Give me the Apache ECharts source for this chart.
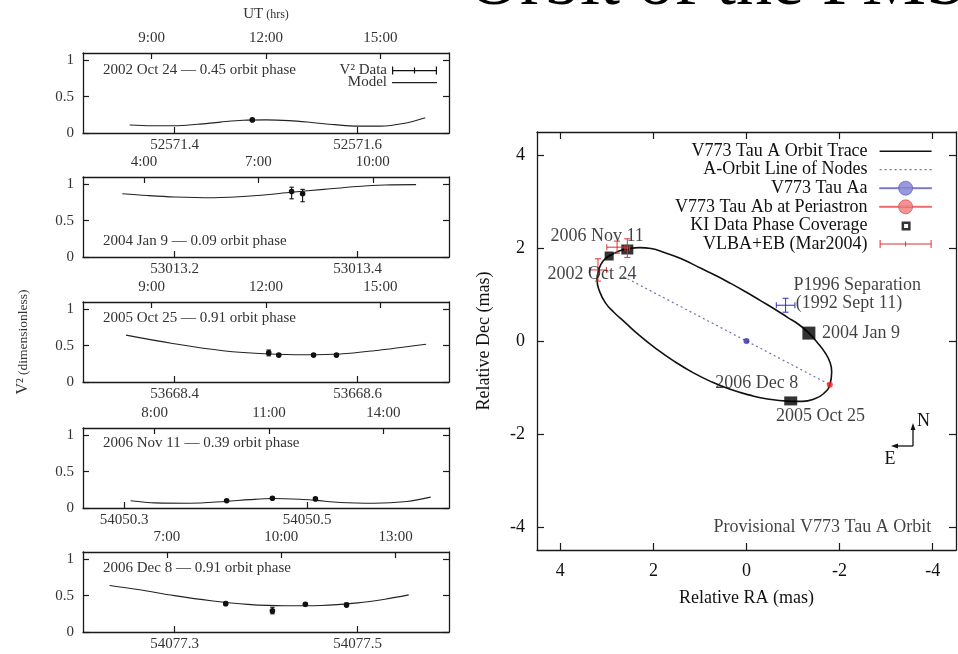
<!DOCTYPE html>
<html><head><meta charset="utf-8">
<script src="https://cdn.jsdelivr.net/npm/echarts@6/dist/echarts.min.js"></script>
<style>html,body{margin:0;padding:0;background:#fff;}#c{width:958px;height:654px;}</style>
</head><body><div id="c"></div>
<script>
// ---------------- DATA ----------------
const panelTexts = ['2002 Oct 24 \u2014 0.45 orbit phase', '2004 Jan 9 \u2014 0.09 orbit phase', '2005 Oct 25 \u2014 0.91 orbit phase', '2006 Nov 11 \u2014 0.39 orbit phase', '2006 Dec 8 \u2014 0.91 orbit phase'];
const mjdRanges = [[52571.3, 52571.7], [53013.1, 53013.5], [53668.3, 53668.7], [54050.255, 54050.655], [54077.2, 54077.6]];
const mjdTicks = [[52571.4, 52571.6], [53013.2, 53013.4], [53668.4, 53668.6], [54050.3, 54050.5], [54077.3, 54077.5]];
const utTicks = [[9, 12, 15], [4, 7, 10], [9, 12, 15], [8, 11, 14], [7, 10, 13]];
const v2Ticks = [0, 0.5, 1];

// model curves [MJD, V2]
const model1 = [[52571.351,0.11],[52571.375,0.10],[52571.40,0.10],[52571.425,0.12],[52571.45,0.15],[52571.475,0.175],[52571.50,0.18],[52571.525,0.17],[52571.55,0.145],[52571.575,0.115],[52571.60,0.095],[52571.625,0.095],[52571.65,0.13],[52571.674,0.21]];
const model2 = [[53013.143,0.87],[53013.17,0.845],[53013.2,0.825],[53013.243,0.815],[53013.29,0.845],[53013.328,0.89],[53013.363,0.93],[53013.40,0.97],[53013.43,0.99],[53013.464,0.995]];
const model3 = [[53668.347,0.645],[53668.398,0.53],[53668.453,0.43],[53668.503,0.385],[53668.544,0.375],[53668.581,0.385],[53668.618,0.43],[53668.675,0.52]];
const model4 = [[54050.307,0.10],[54050.334,0.07],[54050.371,0.065],[54050.411,0.09],[54050.437,0.115],[54050.463,0.13],[54050.492,0.12],[54050.509,0.105],[54050.536,0.075],[54050.573,0.065],[54050.609,0.09],[54050.635,0.15]];
const model5 = [[54077.229,0.64],[54077.26,0.585],[54077.30,0.50],[54077.34,0.43],[54077.38,0.38],[54077.42,0.36],[54077.46,0.365],[54077.50,0.40],[54077.53,0.45],[54077.556,0.51]];

// V2 data [MJD, V2, low, high]
const data1 = [[52571.485,0.18,0.16,0.20]];
const data2 = [[53013.328,0.90,0.80,0.96],[53013.340,0.87,0.76,0.93]];
const data3 = [[53668.503,0.40,0.36,0.44],[53668.514,0.37,0.35,0.39],[53668.552,0.37,0.355,0.385],[53668.577,0.37,0.35,0.39]];
const data4 = [[54050.412,0.10,0.09,0.115],[54050.462,0.135,0.12,0.15],[54050.509,0.125,0.11,0.14]];
const data5 = [[54077.356,0.39,0.37,0.41],[54077.407,0.29,0.25,0.34],[54077.443,0.38,0.36,0.40],[54077.488,0.37,0.35,0.40]];

// orbit panel [RA, Dec] (mas)
const orbitTrace = [[-0.95,-1.30],[-0.45,-1.25],[-0.05,-1.16],[0.35,-1.04],[0.75,-0.88],[1.15,-0.68],[1.55,-0.44],[1.95,-0.16],[2.30,0.12],[2.61,0.40],[2.85,0.62],[3.03,0.82],[3.16,1.08],[3.21,1.32],[3.17,1.55],[3.08,1.72],[2.95,1.83],[2.75,1.93],[2.56,1.98],[2.30,2.01],[2.05,1.99],[1.75,1.90],[1.40,1.77],[0.99,1.57],[0.66,1.41],[0.34,1.24],[0.02,1.06],[-0.30,0.87],[-0.60,0.69],[-0.88,0.51],[-1.13,0.35],[-1.34,0.17],[-1.52,-0.03],[-1.68,-0.24],[-1.79,-0.45],[-1.83,-0.66],[-1.79,-0.94],[-1.66,-1.13],[-1.45,-1.25],[-1.20,-1.30],[-0.95,-1.30]];
const lineOfNodes = [[2.65,1.39],[-1.79,-0.94]];
const aaPos = [[0,0]];
const abPeriastron = [[-1.79,-0.94]];
const kiCoverage = [[2.95,1.83],[2.56,1.97],[-1.34,0.17],[-0.95,-1.29]];
const vlba = [[3.19,1.53,0.18,0.24],[2.78,2.02,0.22,0.13],[2.56,2.0,0.05,0.2]]; // [RA, Dec, errRA, errDec]
const p1996 = [[-0.84,0.77,0.2,0.15]];
const raTicks = [-4,-2,0,2,4];
const decTicks = [-4,-2,0,2,4];
const annotations = [
  ['2006 Nov 11', 3.21, 2.26],
  ['2002 Oct 24', 3.32, 1.44],
  ['P1996 Separation', -1.01, 1.19],
  ['(1992 Sept 11)', -1.06, 0.81],
  ['2004 Jan 9', -1.62, 0.17],
  ['2006 Dec 8', -0.22, -0.90],
  ['2005 Oct 25', -1.59, -1.63],
  ['Provisional V773 Tau A Orbit', -3.97, -4.0]
];

// ---------------- STYLE / LAYOUT ----------------
const FONT = 'Liberation Serif';
const kiSizes = [[9,9],[12,10],[13,13],[13,9]];
const annAlign = ['center','center','left','left','left','center','center','right'];
const leftTops = [53, 177, 302, 428, 552];
const models = [model1, model2, model3, model4, model5];
const datas = [data1, data2, data3, data4, data5];
const lineCol = '#1a1a1a';
const axLine = {show:true, onZero:false, lineStyle:{color:lineCol, width:1.3}};
const tickStyle = {color:lineCol, width:1.2};

function errRender(params, api){
  const x=api.value(0), y=api.value(1), lo=api.value(2), hi=api.value(3);
  const p=api.coord([x,y]), pl=api.coord([x,lo]), ph=api.coord([x,hi]);
  const c=2.2, st={stroke:'#111', lineWidth:1.1};
  return {type:'group', children:[
    {type:'line', shape:{x1:pl[0],y1:pl[1],x2:ph[0],y2:ph[1]}, style:st},
    {type:'line', shape:{x1:pl[0]-c,y1:pl[1],x2:pl[0]+c,y2:pl[1]}, style:st},
    {type:'line', shape:{x1:ph[0]-c,y1:ph[1],x2:ph[0]+c,y2:ph[1]}, style:st},
    {type:'circle', shape:{cx:p[0],cy:p[1],r:2.8}, style:{fill:'#111'}}
  ]};
}
function xyErr(color){
  return function(params, api){
    const x=api.value(0), y=api.value(1), ex=api.value(2), ey=api.value(3);
    const l=api.coord([x-ex,y]), r=api.coord([x+ex,y]), t=api.coord([x,y+ey]), b=api.coord([x,y-ey]);
    const c=3, st={stroke:color, lineWidth:1};
    return {type:'group', children:[
      {type:'line', shape:{x1:l[0],y1:l[1],x2:r[0],y2:r[1]}, style:st},
      {type:'line', shape:{x1:l[0],y1:l[1]-c,x2:l[0],y2:l[1]+c}, style:st},
      {type:'line', shape:{x1:r[0],y1:r[1]-c,x2:r[0],y2:r[1]+c}, style:st},
      {type:'line', shape:{x1:t[0],y1:t[1],x2:b[0],y2:b[1]}, style:st},
      {type:'line', shape:{x1:t[0]-c,y1:t[1],x2:t[0]+c,y2:t[1]}, style:st},
      {type:'line', shape:{x1:b[0]-c,y1:b[1],x2:b[0]+c,y2:b[1]}, style:st}
    ]};
  };
}

const grids=[], xAxes=[], yAxes=[], series=[];
const leftLabel = {fontFamily:FONT, fontSize:15, color:'#333'};
for (let i=0;i<5;i++){
  grids.push({left:83, top:leftTops[i], width:366, height:80});
  const mn=mjdRanges[i][0], mx=mjdRanges[i][1], day=Math.floor(mn);
  xAxes.push({type:'value', gridIndex:i, position:'bottom', min:mn, max:mx,
    axisLine:axLine, splitLine:{show:false},
    axisTick:{inside:true, length:6, customValues:mjdTicks[i], lineStyle:tickStyle},
    axisLabel:Object.assign({customValues:mjdTicks[i], margin:5, formatter:v=>v.toFixed(1)}, leftLabel)});
  const top = {type:'value', gridIndex:i, position:'top', min:(mn-day)*24, max:(mx-day)*24,
    axisLine:axLine, splitLine:{show:false},
    axisTick:{inside:true, length:6, customValues:utTicks[i], lineStyle:tickStyle},
    axisLabel:Object.assign({customValues:utTicks[i], margin:7, formatter:v=>Math.round(v)+':00'}, leftLabel)};
  if (i===0){
    Object.assign(top, {name:'{a|UT} {b|(hrs)}', nameLocation:'middle', nameGap:31,
      nameTextStyle:{fontFamily:FONT, color:'#333', rich:{a:{fontFamily:FONT,fontSize:15,color:'#333'}, b:{fontFamily:FONT,fontSize:12,color:'#333'}}}});
  }
  xAxes.push(top);
  const yl = {type:'value', gridIndex:i, position:'left', min:0, max:1.1,
    axisLine:axLine, splitLine:{show:false},
    axisTick:{inside:true, length:6, customValues:v2Ticks, lineStyle:tickStyle},
    axisLabel:Object.assign({customValues:v2Ticks, margin:9, formatter:v=>String(v)}, leftLabel)};
  if (i===2){
    Object.assign(yl, {name:'{a|V\u00b2} {b|(dimensionless)}', nameLocation:'middle', nameRotate:90, nameGap:52,
      nameTextStyle:{rich:{a:{fontFamily:FONT,fontSize:16,color:'#333'}, b:{fontFamily:FONT,fontSize:13.5,color:'#333'}}}});
  }
  yAxes.push(yl);
  yAxes.push({type:'value', gridIndex:i, position:'right', min:0, max:1.1,
    axisLine:axLine, splitLine:{show:false}, axisLabel:{show:false},
    axisTick:{inside:true, length:6, customValues:v2Ticks, lineStyle:tickStyle}});
  series.push({type:'line', name:'Model', xAxisIndex:2*i, yAxisIndex:2*i, data:models[i], smooth:0.35,
    showSymbol:false, symbol:'none', lineStyle:{color:'#222', width:1.1}, itemStyle:{color:'#222'}, z:3});
  series.push({type:'custom', name:'V\u00b2 Data', xAxisIndex:2*i, yAxisIndex:2*i, data:datas[i],
    renderItem:errRender, encode:{x:0, y:1}, itemStyle:{color:'#111'}, z:4});
}

// right panel
const R = {fontFamily:FONT, fontSize:18, color:'#111'};
grids.push({left:537, top:132, width:419, height:418});
xAxes.push({type:'value', gridIndex:5, position:'bottom', min:-4.5, max:4.5, inverse:true,
  axisLine:axLine, splitLine:{show:false},
  axisTick:{inside:true, length:7, customValues:raTicks, lineStyle:tickStyle},
  axisLabel:Object.assign({customValues:raTicks, margin:12, formatter:v=>String(v)}, R),
  name:'Relative RA (mas)', nameLocation:'middle', nameGap:39, nameTextStyle:R});
xAxes.push({type:'value', gridIndex:5, position:'top', min:-4.5, max:4.5, inverse:true,
  axisLine:axLine, splitLine:{show:false}, axisLabel:{show:false},
  axisTick:{inside:true, length:7, customValues:raTicks, lineStyle:tickStyle}});
yAxes.push({type:'value', gridIndex:5, position:'left', min:-4.5, max:4.5,
  axisLine:axLine, splitLine:{show:false},
  axisTick:{inside:true, length:7, customValues:decTicks, lineStyle:tickStyle},
  axisLabel:Object.assign({customValues:decTicks, margin:12, formatter:v=>String(v)}, R),
  name:'Relative Dec (mas)', nameLocation:'middle', nameRotate:90, nameGap:44, nameTextStyle:R});
yAxes.push({type:'value', gridIndex:5, position:'right', min:-4.5, max:4.5,
  axisLine:axLine, splitLine:{show:false}, axisLabel:{show:false},
  axisTick:{inside:true, length:7, customValues:decTicks, lineStyle:tickStyle}});

series.push({type:'line', name:'V773 Tau A Orbit Trace', xAxisIndex:10, yAxisIndex:10, data:orbitTrace,
  smooth:0.5, showSymbol:false, symbol:'none', lineStyle:{color:'#111', width:1.6}, itemStyle:{color:'#111'}, z:3});
series.push({type:'line', name:'A-Orbit Line of Nodes', xAxisIndex:10, yAxisIndex:10, data:lineOfNodes,
  showSymbol:false, symbol:'none', lineStyle:{color:'#7070a8', width:1.2, type:[2,3]}, itemStyle:{color:'#7070a8'}, z:2});
series.push({type:'scatter', name:'V773 Tau Aa', xAxisIndex:10, yAxisIndex:10, data:aaPos,
  symbol:'circle', symbolSize:6, itemStyle:{color:'#2a2aa0'}, z:5});
series.push({type:'scatter', name:'V773 Tau Ab at Periastron', xAxisIndex:10, yAxisIndex:10, data:abPeriastron,
  symbol:'circle', symbolSize:6, itemStyle:{color:'#ee2020'}, z:5});
series.push({type:'scatter', name:'KI Data Phase Coverage', xAxisIndex:10, yAxisIndex:10,
  data:kiCoverage.map((d,k)=>({value:d, symbolSize:kiSizes[k]})),
  symbol:'rect', itemStyle:{color:'#000'}, z:6});
series.push({type:'custom', name:'VLBA+EB (Mar2004)', xAxisIndex:10, yAxisIndex:10, data:vlba,
  renderItem:xyErr('#e03030'), encode:{x:0,y:1}, itemStyle:{color:'#e03030'}, z:7});
series.push({type:'custom', name:'P1996', xAxisIndex:10, yAxisIndex:10, data:p1996,
  renderItem:xyErr('#3030c0'), encode:{x:0,y:1}, itemStyle:{color:'#3030c0'}, z:7});
series.push({type:'scatter', name:'annotations', xAxisIndex:10, yAxisIndex:10, symbolSize:0, silent:true, z:8,
  data:annotations.map((a,k)=>({value:[a[1],a[2]], label:{show:true, position:'inside', formatter:a[0], align:annAlign[k], verticalAlign:'middle', fontFamily:FONT, fontSize:18, color:'#111'}}))});

// legend icons
const B = 'M0,0 M52,14 ';
const dots = (()=>{let s=B; for(let x=0;x<52;x+=5){s+='M'+x+',6.5h2v1.2h-2z ';} return s;})();
const option = {
  animation:false,
  backgroundColor:'#fff',
  grid:grids, xAxis:xAxes, yAxis:yAxes, series:series,
  legend:[
    {orient:'vertical', align:'right', right:516, top:58, itemWidth:45, itemHeight:10, itemGap:-3,
     textStyle:{fontFamily:FONT, fontSize:15, color:'#333', lineHeight:12},
     data:[
       {name:'V\u00b2 Data', icon:'path://M0,0 M45,10 M0,1h1.2v8h-1.2z M0,4.5h45v1.2h-45z M21.9,2h1.2v6h-1.2z M43.8,1h1.2v8h-1.2z', itemStyle:{color:'#111'}},
       {name:'Model', icon:'path://M0,0 M45,10 M0,4.5h45v1.2h-45z', itemStyle:{color:'#222'}}
     ]},
    {orient:'vertical', align:'right', right:21, top:137, itemWidth:52, itemHeight:14, itemGap:0.6,
     textStyle:{fontFamily:FONT, fontSize:18, color:'#111', lineHeight:18, padding:[0,7,0,0]},
     data:[
       {name:'V773 Tau A Orbit Trace', icon:'path://'+B+'M0,6.4h52v1.5h-52z', itemStyle:{color:'#111'}},
       {name:'A-Orbit Line of Nodes', icon:'path://'+dots, itemStyle:{color:'#7070a8'}},
       {name:'V773 Tau Aa', icon:'path://'+B+'M0,6.5h52v1h-52z M19,7a7,7 0 1,0 14,0a7,7 0 1,0 -14,0z', itemStyle:{color:'#8080d8', borderColor:'#5050b8', borderWidth:0.8}},
       {name:'V773 Tau Ab at Periastron', icon:'path://'+B+'M0,6.5h52v1h-52z M19,7a7,7 0 1,0 14,0a7,7 0 1,0 -14,0z', itemStyle:{color:'#f07878', borderColor:'#e03838', borderWidth:0.8}},
       {name:'KI Data Phase Coverage', icon:'path://'+B+'M22,3h9v9h-9z M24.5,5.5v4h4v-4z', itemStyle:{color:'#000'}},
       {name:'VLBA+EB (Mar2004)', icon:'path://'+B+'M0,3h1v8h-1z M0,6.5h52v1h-52z M25.5,4.5h1v5h-1z M51,3h1v8h-1z', itemStyle:{color:'#e03030'}}
     ]}
  ],
  graphic:[
    {type:'text', x:468, y:-15, style:{text:'Orbit of the PMS', font:'72px "Liberation Serif"', fill:'#000', verticalAlign:'middle'}},
    ...panelTexts.map((t,i)=>({type:'text', x:103, y:[70,241,318,443,568][i], style:{text:t, font:'15px "Liberation Serif"', fill:'#333', verticalAlign:'middle'}})),
    {type:'line', shape:{x1:913,y1:446,x2:913,y2:427}, style:{stroke:'#111', lineWidth:1.3}},
    {type:'polygon', shape:{points:[[913,423],[910.6,430],[915.4,430]]}, style:{fill:'#111'}},
    {type:'line', shape:{x1:913,y1:446,x2:895,y2:446}, style:{stroke:'#111', lineWidth:1.3}},
    {type:'polygon', shape:{points:[[891,446],[898,443.6],[898,448.4]]}, style:{fill:'#111'}},
    {type:'text', x:917, y:421, style:{text:'N', font:'18px "Liberation Serif"', fill:'#111', verticalAlign:'middle'}},
    {type:'text', x:890, y:459, style:{text:'E', font:'18px "Liberation Serif"', fill:'#111', align:'center', verticalAlign:'middle'}}
  ]
};
const chart = echarts.init(document.getElementById('c'), null, {renderer:'canvas'});
chart.setOption(option);
</script>
</body></html>
